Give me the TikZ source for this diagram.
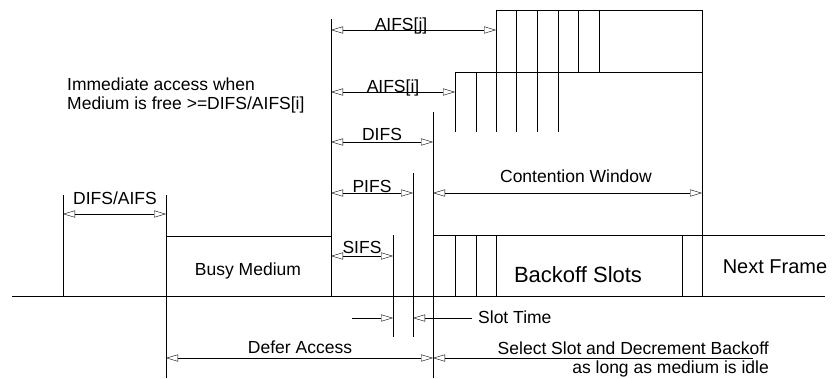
\documentclass[tikz,border=0pt]{standalone}
\usepackage{fontspec}
\setmainfont{Liberation Sans}
\usetikzlibrary{arrows.meta}
\tikzset{x=1pt, y=-1pt,
	line width=1.1pt,
	dimarrow/.style={{Triangle[open,length=12pt,width=7pt]}-{Triangle[open,length=12pt,width=7pt]}},
	leftarrow/.style={{Triangle[open,length=12pt,width=7pt]}-},
	rightarrow/.style={-{Triangle[open,length=12pt,width=7pt]}},
	lbl/.style={font=\fontsize{17.5}{19}\selectfont, inner sep=0pt, anchor=base},
	bigl/.style={font=\fontsize{22}{24}\selectfont, inner sep=0pt, anchor=base}
}
\begin{document}
\begin{tikzpicture}
	\useasboundingbox (0,0) rectangle (840,378);
	% time axis and busy medium
	\coordinate (ax0) at (12,296);
	\coordinate (ax1) at (825,296);
	\draw (ax0) -- (ax1);
	\draw (63,195) -- (63,296);
	\draw (166,195) -- (166,378);
	\draw (166,236) -- (331,236);
	\draw (331,19) -- (331,296);
	\node[lbl] (busy) at (248,275) {Busy Medium};
	\coordinate (da0) at (63,214);
	\coordinate (da1) at (166,214);
	\draw[dimarrow] (da0) -- (da1);
	\node[lbl] (difsaifs) at (115,204) {DIFS/AIFS};
	\node[lbl, anchor=base west, align=left] (immediate) at (67,109) {Immediate access when\\Medium is free >=DIFS/AIFS[i]};
	% interframe spaces
	\draw (433,112) -- (433,378);
	\draw (413,173) -- (413,337);
	\draw (393,235) -- (393,337);
	\coordinate (aj0) at (331,30);  \coordinate (aj1) at (496,30);
	\coordinate (ai0) at (331,92);  \coordinate (ai1) at (455,92);
	\coordinate (di0) at (331,142); \coordinate (di1) at (433,142);
	\coordinate (pi0) at (331,193); \coordinate (pi1) at (413,193);
	\coordinate (si0) at (331,256); \coordinate (si1) at (393,256);
	\draw[dimarrow] (aj0) -- (aj1);
	\draw[dimarrow] (ai0) -- (ai1);
	\draw[dimarrow] (di0) -- (di1);
	\draw[dimarrow] (pi0) -- (pi1);
	\draw[dimarrow] (si0) -- (si1);
	\node[lbl] (aifsj) at (401,30) {AIFS[j]};
	\node[lbl] (aifsi) at (393,92) {AIFS[i]};
	\node[lbl] (difs) at (382,140) {DIFS};
	\node[lbl] (pifs) at (372,192) {PIFS};
	\node[lbl] (sifs) at (362,253) {SIFS};
	% contention window slots
	\draw (496,10) -- (702,10);
	\draw (455,72) -- (702,72);
	\draw (702,10) -- (702,296);
	\foreach \x in {496,516,537,558} \draw (\x,10) -- (\x,132);
	\foreach \x in {578,599} \draw (\x,10) -- (\x,72);
	\foreach \x in {455,476} \draw (\x,72) -- (\x,132);
	\coordinate (cw0) at (433,193);
	\coordinate (cw1) at (702,193);
	\draw[dimarrow] (cw0) -- (cw1);
	\node[lbl] (contention) at (576,182) {Contention Window};
	% backoff and next frame
	\draw (433,235) -- (825,235);
	\foreach \x in {455,476,496,682} \draw (\x,235) -- (\x,296);
	\node[bigl] (backoff) at (578,282) {Backoff Slots};
	\node[bigl, font=\fontsize{20}{22}\selectfont] (nextframe) at (775,273) {Next Frame};
	% slot time
	\coordinate (st0) at (352,318);
	\coordinate (st1) at (393,318);
	\coordinate (st2) at (413,318);
	\coordinate (st3) at (472,318);
	\draw[rightarrow] (st0) -- (st1);
	\draw[leftarrow] (st2) -- (st3);
	\node[lbl, anchor=base west] (slottime) at (478,323) {Slot Time};
	% defer access and backoff selection
	\coordinate (de0) at (166,358);
	\coordinate (de1) at (433,358);
	\coordinate (se1) at (753,358);
	\draw[dimarrow] (de0) -- (de1);
	\draw[leftarrow] (de1) -- (se1);
	\node[lbl] (defer) at (300,353) {Defer Access};
	\node[lbl, anchor=base east] (select) at (769,354) {Select Slot and Decrement Backoff};
	\node[lbl, anchor=base east] (idle) at (769,373) {as long as medium is idle};
\end{tikzpicture}
\end{document}
